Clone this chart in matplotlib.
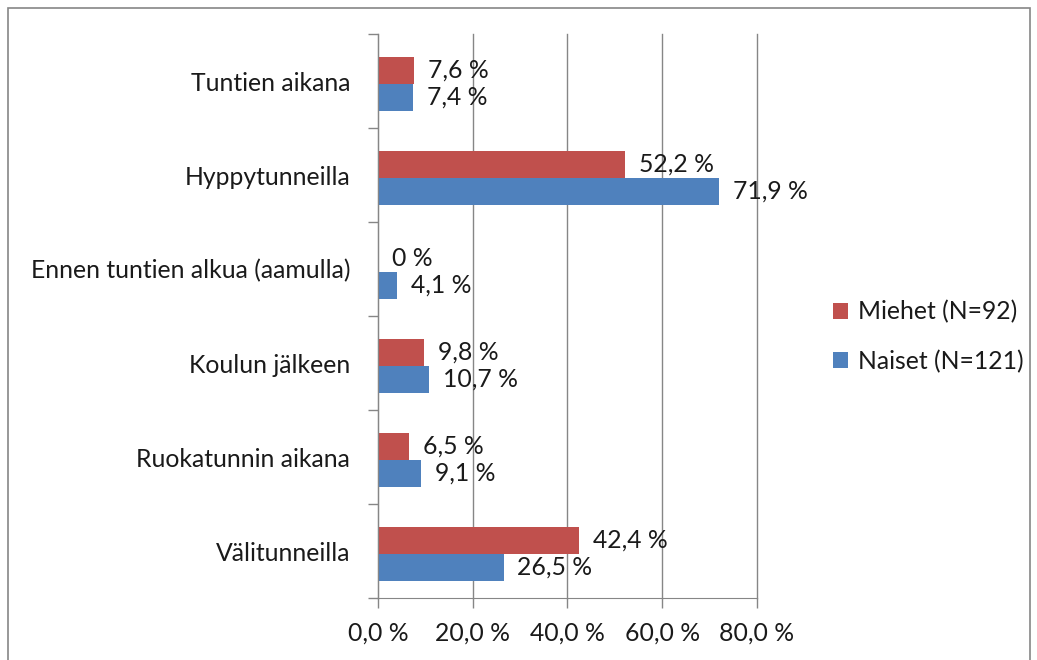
import matplotlib.pyplot as plt
import matplotlib.patches as mpatches
import numpy as np

plt.rcParams['font.family'] = ['Lato', 'DejaVu Sans']

# ─── data ──────────────────────────────────────────────────────────────
categories = [
    "Tuntien aikana",
    "Hyppytunneilla",
    "Ennen tuntien alkua (aamulla)",
    "Koulun jälkeen",
    "Ruokatunnin aikana",
    "Välitunneilla",
]
miehet = [7.6, 52.2, 0.0, 9.8, 6.5, 42.4]
naiset = [7.4, 71.9, 4.1, 10.7, 9.1, 26.5]
series_names = ["Miehet (N=92)", "Naiset (N=121)"]
xticks = [0, 20, 40, 60, 80]

RED = "#C0504D"
BLUE = "#4F81BD"
GRID = "#868686"
TXT = "#1a1a1a"
FS = 17.8


def pct(v):
    # palkkien arvot: nolla ilman desimaalia
    if v == 0:
        return "0 %"
    return f"{v:.1f}".replace(".", ",") + " %"


fig = plt.figure(figsize=(10.37, 6.6), dpi=100)
ax = fig.add_axes([0.3645, 0.0939, 0.3655, 0.8545])

y = np.arange(len(categories))
h = 0.285
b1 = ax.barh(y - h / 2 + 0.03, miehet, height=h, color=RED, label=series_names[0], zorder=3)
b2 = ax.barh(y + h / 2 + 0.03, naiset, height=h, color=BLUE, label=series_names[1], zorder=3)

# arvot palkkien perään
for yy, v in zip(y - h / 2 + 0.03, miehet):
    ax.annotate(pct(v), (v, yy), xytext=(10, 0), textcoords="offset points",
                va="center", ha="left", fontsize=FS, color=TXT)
for yy, v in zip(y + h / 2 + 0.03, naiset):
    ax.annotate(pct(v), (v, yy), xytext=(10, 0), textcoords="offset points",
                va="center", ha="left", fontsize=FS, color=TXT)

ax.set_xlim(0, 80)
ax.set_ylim(len(categories) - 0.5, -0.5)
ax.set_xticks(xticks)
ax.set_xticklabels([f"{t:.1f}".replace(".", ",") + " %" for t in xticks],
                   fontsize=FS, color=TXT)
ax.set_yticks(y)
ax.set_yticklabels(categories, fontsize=FS, color=TXT)
ax.set_yticks(np.arange(-0.5, len(categories)), minor=True)
ax.tick_params(axis="y", which="major", length=0, pad=20)
ax.tick_params(axis="y", which="minor", length=7, color=GRID, width=1)
ax.tick_params(axis="x", length=7, color=GRID, width=1, pad=10)

ax.grid(axis="x", color=GRID, linewidth=1, zorder=0)
for gl in ax.get_xgridlines():
    gl.set_clip_on(False)
for s in ["top", "right"]:
    ax.spines[s].set_visible(False)
for s in ["left", "bottom"]:
    ax.spines[s].set_color(GRID)
    ax.spines[s].set_zorder(4)

fig.legend(handles=[b1, b2], labels=series_names, loc="center left",
           bbox_to_anchor=(0.782, 0.49), frameon=False, fontsize=FS,
           handlelength=0.6, handleheight=0.6, handletextpad=0.4,
           labelspacing=1.05, labelcolor=TXT)

# kuvion kehys
fig.patches.append(mpatches.Rectangle((0.008, -0.02), 0.985, 1.008,
                                      transform=fig.transFigure, fill=False,
                                      edgecolor=GRID, linewidth=1.2))

fig.savefig("out.png", dpi=100)
